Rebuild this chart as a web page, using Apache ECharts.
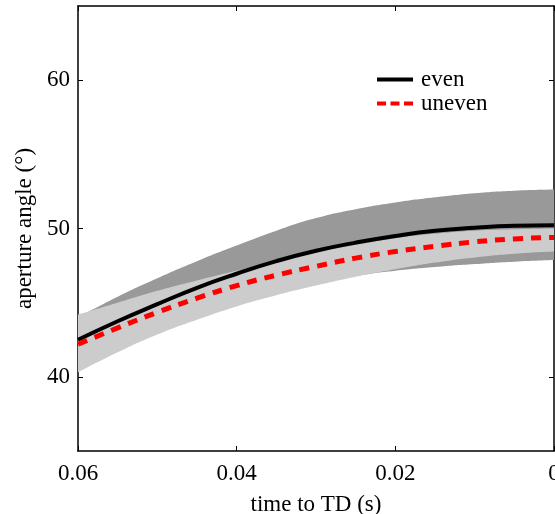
<!DOCTYPE html>
<html><head><meta charset="utf-8">
<script src="https://cdn.jsdelivr.net/npm/echarts@6/dist/echarts.min.js"></script>
<style>html,body{margin:0;padding:0;background:#fff}#c{width:555px;height:514px}</style>
</head><body><div id="c"></div>
<script>
const times      = [0.06, 0.055, 0.05, 0.045, 0.04, 0.035, 0.03, 0.025, 0.02, 0.015, 0.01, 0.005, 0];
const evenMean   = [42.5, 43.75, 44.9, 46.0, 46.95, 47.8, 48.5, 49.05, 49.5, 49.85, 50.05, 50.18, 50.22];
const evenLow    = [41.0, 42.1, 43.2, 44.2, 45.1, 45.8, 46.35, 46.8, 47.15, 47.4, 47.6, 47.76, 47.87];
const evenHigh   = [44.0, 45.4, 46.65, 47.8, 48.85, 49.85, 50.7, 51.3, 51.75, 52.1, 52.38, 52.55, 52.63];
const unevenMean = [42.2, 43.3, 44.35, 45.3, 46.15, 46.85, 47.45, 48.0, 48.45, 48.8, 49.1, 49.3, 49.4];
const unevenLow  = [40.3, 41.65, 42.85, 43.85, 44.75, 45.5, 46.15, 46.75, 47.25, 47.7, 48.05, 48.3, 48.45];
const unevenHigh = [44.2, 45.0, 45.8, 46.5, 47.15, 47.8, 48.4, 48.9, 49.35, 49.65, 49.85, 49.95, 50.0];
const xTicks = [0.06, 0.04, 0.02, 0];
const xTickLabels = ['0.06', '0.04', '0.02', '0'];
const yTicks = [40, 50, 60];
const seriesNames = ['even', 'uneven'];
const xTitle = 'time to TD (s)';
const yTitle = 'aperture angle (°)';

const FONT = "'Liberation Serif', 'Times New Roman', serif";
const pairs = (xs, ys) => xs.map((x, i) => [x, ys[i]]);
const diff = (a, b) => a.map((v, i) => +(v - b[i]).toFixed(4));
const xLabel = v => {
  let best = 0;
  xTicks.forEach((t, i) => { if (Math.abs(t - v) < Math.abs(xTicks[best] - v)) best = i; });
  return xTickLabels[best];
};

const axisLineStyle = { color: '#000', width: 1.5 };
const tickStyle = { color: '#000', width: 1 };
const baseX = {
  type: 'value', min: 0, max: 0.06, inverse: true,
  splitLine: { show: false },
  axisLine: { show: true, onZero: false, lineStyle: axisLineStyle },
};
const baseY = {
  type: 'value', min: 35, max: 65,
  splitLine: { show: false },
  axisLine: { show: true, onZero: false, lineStyle: axisLineStyle },
};

const bandLine = { width: 0, color: 'rgba(0,0,0,0)' };

const chart = echarts.init(document.getElementById('c'), null, { renderer: 'canvas' });
chart.setOption({
  animation: false,
  backgroundColor: '#fff',
  grid: { left: 78, right: 1, top: 6, bottom: 63, containLabel: false, outerBoundsMode: 'none' },
  legend: {
    data: [
      { name: seriesNames[0], icon: 'path://M0,0h36v4h-36z', itemStyle: { color: '#000' } },
      { name: seriesNames[1], icon: 'path://M0,0h9v4h-9z M13.5,0h9v4h-9z M27,0h9v4h-9z', itemStyle: { color: '#ff0000' } }
    ],
    orient: 'vertical',
    left: 377, top: 67.5, padding: 0,
    itemWidth: 36, itemHeight: 4, itemGap: 0,
    symbolKeepAspect: false,
    itemStyle: { borderWidth: 0 },
    textStyle: { fontFamily: FONT, fontSize: 23, color: '#000', lineHeight: 24, padding: [0, 0, 0, 3] }
  },
  xAxis: [
    Object.assign({}, baseX, {
      position: 'bottom',
      name: xTitle, nameLocation: 'middle', nameGap: 42,
      nameTextStyle: { fontFamily: FONT, fontSize: 23, color: '#000' },
      axisTick: { show: true, inside: true, length: 5, customValues: xTicks, lineStyle: tickStyle },
      axisLabel: { show: true, customValues: xTicks, formatter: xLabel, margin: 11,
        fontFamily: FONT, fontSize: 23, color: '#000' }
    }),
    Object.assign({}, baseX, {
      position: 'top',
      axisTick: { show: true, inside: true, length: 5, customValues: xTicks, lineStyle: tickStyle },
      axisLabel: { show: false }
    }),
    {
      type: 'category', data: times.map(String), boundaryGap: false, show: false,
      position: 'bottom', axisLine: { show: false }, axisTick: { show: false }, axisLabel: { show: false }
    }
  ],
  yAxis: [
    Object.assign({}, baseY, {
      position: 'left',
      name: yTitle, nameLocation: 'middle', nameGap: 41, nameRotate: 90,
      nameTextStyle: { fontFamily: FONT, fontSize: 23, color: '#000' },
      axisTick: { show: true, inside: true, length: 5, customValues: yTicks, lineStyle: tickStyle },
      axisLabel: { show: true, customValues: yTicks, margin: 8, padding: [6, 0, 0, 0],
        fontFamily: FONT, fontSize: 23, color: '#000' }
    }),
    Object.assign({}, baseY, {
      position: 'right',
      axisTick: { show: true, inside: true, length: 5, customValues: yTicks, lineStyle: tickStyle },
      axisLabel: { show: false }
    })
  ],
  series: [
    { name: 'evenBandBase', type: 'line', xAxisIndex: 2, yAxisIndex: 0, stack: 'evenBand', data: evenLow,
      symbol: 'none', smooth: 0.5, silent: true, lineStyle: bandLine, z: 1 },
    { name: 'evenBand', type: 'line', xAxisIndex: 2, yAxisIndex: 0, stack: 'evenBand', data: diff(evenHigh, evenLow),
      symbol: 'none', smooth: 0.5, silent: true, lineStyle: bandLine, z: 1,
      areaStyle: { color: '#999999', opacity: 1 } },
    { name: 'unevenBandBase', type: 'line', xAxisIndex: 2, yAxisIndex: 0, stack: 'unevenBand', data: unevenLow,
      symbol: 'none', smooth: 0.5, silent: true, lineStyle: bandLine, z: 2 },
    { name: 'unevenBand', type: 'line', xAxisIndex: 2, yAxisIndex: 0, stack: 'unevenBand', data: diff(unevenHigh, unevenLow),
      symbol: 'none', smooth: 0.5, silent: true, lineStyle: bandLine, z: 2,
      areaStyle: { color: '#cccccc', opacity: 1 } },
    { name: seriesNames[0], type: 'line', xAxisIndex: 0, data: pairs(times, evenMean), symbol: 'none', smooth: 0.5,
      color: '#000', lineStyle: { color: '#000', width: 4 }, z: 3 },
    { name: seriesNames[1], type: 'line', xAxisIndex: 0, data: pairs(times, unevenMean), symbol: 'none', smooth: 0.5,
      color: '#ff0000', lineStyle: { color: '#ff0000', width: 5, type: [10, 8] }, z: 4 }
  ]
});
</script>
</body></html>
